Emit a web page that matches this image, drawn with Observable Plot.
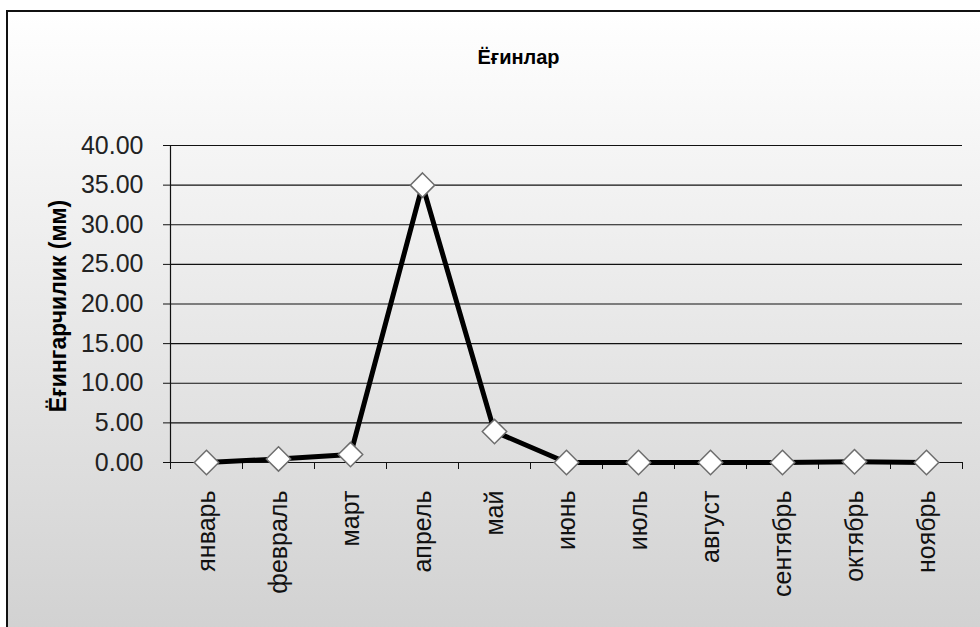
<!DOCTYPE html>
<html>
<head>
<meta charset="utf-8">
<style>
  html, body { margin: 0; padding: 0; background: #fff; }
  #chart { position: relative; width: 980px; height: 627px; overflow: hidden; }
  #panel {
    position: absolute; left: 6px; top: 10px; width: 1000px; height: 640px;
    border-left: 2px solid #111; border-top: 2px solid #111;
    background: linear-gradient(#ffffff, #d0d0d0);
  }
  #chart svg { position: absolute; left: 0; top: 0; background: transparent; }
</style>
<script src="https://cdn.jsdelivr.net/npm/d3@7"></script>
<script src="https://cdn.jsdelivr.net/npm/@observablehq/plot@0.6"></script>
</head>
<body>
<div id="chart"><div id="panel"></div></div>
<script>
// Monthly precipitation, mm
const months = ["январь", "февраль", "март", "апрель", "май", "июнь", "июль", "август", "сентябрь", "октябрь", "ноябрь"];
const rainfall = [0, 0.45, 1.0, 35, 3.9, 0, 0, 0, 0, 0.1, 0];
const yTicks = [0, 5, 10, 15, 20, 25, 30, 35, 40];
const title = "Ёғинлар";
const yLabel = "Ёғингарчилик (мм)";

const idx = months.map((_, i) => i);
const edges = d3.range(months.length + 1).map(i => i - 0.5);
const rows = idx.map(i => ({i, month: months[i], value: rainfall[i]}));
const font = "'Liberation Sans', Arial, sans-serif";

const chart = Plot.plot({
  width: 980,
  height: 627,
  marginLeft: 170,
  marginRight: 18,
  marginTop: 145,
  marginBottom: 165,
  style: {background: "transparent", fontFamily: font, color: "#111"},
  x: {type: "linear", domain: [-0.5, months.length - 0.5]},
  y: {type: "linear", domain: [0, 40]},
  marks: [
    // gridlines and vertical axis line
    Plot.ruleY(yTicks, {stroke: "#111", strokeWidth: 1.2}),
    Plot.ruleX([-0.5], {stroke: "#111", strokeWidth: 1.2}),
    Plot.axisY(yTicks, {
      tickSize: 7, tickPadding: 20, tickFormat: d => d.toFixed(2),
      fontSize: 25, stroke: "#111", fill: "#222", label: null
    }),
    // category boundary ticks, then the month names between them
    Plot.axisX(edges, {tickSize: 7, tickFormat: () => "", stroke: "#111", label: null}),
    Plot.axisX(idx, {
      tickSize: 0, tickPadding: 28, tickRotate: -90,
      tickFormat: i => months[i], fontSize: 25, fill: "#111", label: null
    }),
    Plot.line(rows, {x: "i", y: "value", stroke: "#000", strokeWidth: 5, strokeLinejoin: "round"}),
    Plot.dot(rows, {x: "i", y: "value", symbol: "diamond2", r: 11, fill: "#fff", stroke: "#6e6e6e", strokeWidth: 1.5}),
    Plot.text([title], {
      frameAnchor: "top", dx: -48, dy: -96, text: d => d,
      fontSize: 20, fontWeight: "bold", fill: "#000"
    }),
    Plot.text([yLabel], {
      frameAnchor: "left", dx: -112, dy: 2, rotate: -90, textAnchor: "middle", text: d => d,
      fontSize: 23, fontWeight: "bold", fill: "#000"
    })
  ]
});
document.getElementById("chart").appendChild(chart);
</script>
</body>
</html>
